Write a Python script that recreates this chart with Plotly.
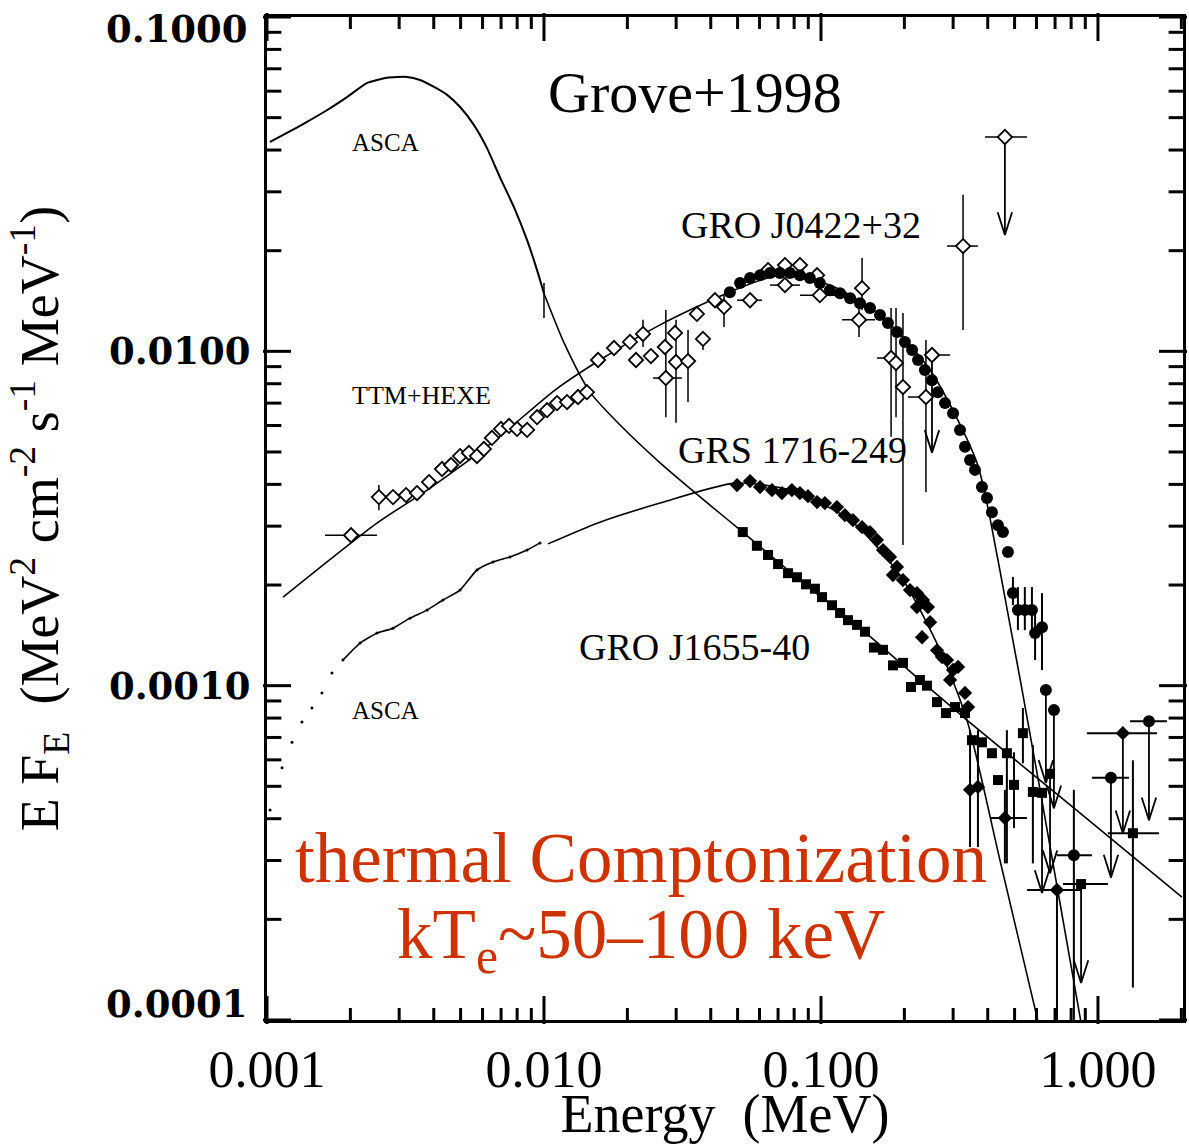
import numpy as np
import plotly.graph_objects as go

# ---------------- data (Energy in MeV, E*F_E in MeV^2 cm^-2 s^-1 MeV^-1) ----------------
# ASCA spectrum, upper (soft source)
asca_hi_E = [0.001026, 0.00118, 0.00139, 0.00165, 0.00195, 0.00230, 0.00271, 0.00320, 0.00357,
             0.00401, 0.00447, 0.00498, 0.00559, 0.00622, 0.00693, 0.00779, 0.00869, 0.00944, 0.0100]
asca_hi_F = [0.0423, 0.0450, 0.0485, 0.0527, 0.0577, 0.0635, 0.0658, 0.0662, 0.0648,
             0.0618, 0.0585, 0.0538, 0.0475, 0.0406, 0.0332, 0.0270, 0.0215, 0.0175, 0.0149]
asca_hi_Flo = [None] * 18 + [0.01259]
asca_hi_Fhi = [None] * 18 + [0.0160]

# ASCA spectrum, lower
asca_lo_E = [0.001026, 0.001133, 0.001231, 0.001337, 0.001453, 0.001579, 0.001716, 0.001880, 0.002168,
             0.002494, 0.002851, 0.003281, 0.003785, 0.004318, 0.004978, 0.005728, 0.006546, 0.007535,
             0.008690, 0.009680]
asca_lo_F = [0.000425, 0.000568, 0.000677, 0.000778, 0.000857, 0.000951, 0.001091, 0.001193, 0.001341,
             0.001436, 0.001486, 0.001592, 0.001683, 0.001804, 0.001932, 0.002218, 0.002344, 0.002427,
             0.002545, 0.002673]

# model curves
m1655_E = [0.0100, 0.01191, 0.01466, 0.01879, 0.02625, 0.0397, 0.0522, 0.0839, 0.1383, 0.2276, 0.3365, 0.826, 2.01]
m1655_F = [0.0149, 0.01045, 0.00755, 0.00603, 0.00464, 0.00347, 0.00288, 0.00207, 0.00149, 0.00104, 0.000789,
           0.000428, 0.000233]
m0422_E = [0.001143, 0.002494, 0.003785, 0.006546, 0.01096, 0.01592, 0.02625, 0.0458, 0.0711, 0.1076, 0.1633,
           0.2477, 0.3657, 0.4355, 0.618, 0.898]
m0422_F = [0.00184, 0.003063, 0.003846, 0.005358, 0.00766, 0.00942, 0.0120, 0.01493, 0.01690, 0.01578, 0.01285,
           0.00879, 0.00464, 0.002377, 0.000488, 0.0000841]
m1716_E = [0.01033, 0.01592, 0.02625, 0.04898, 0.07727, 0.1274, 0.1927, 0.2692, 0.3365, 0.4426, 0.618]
m1716_F = [0.002655, 0.003084, 0.003516, 0.004036, 0.003846, 0.003126, 0.002143, 0.001276, 0.000789, 0.000301,
           0.0000933]

# TTM+HEXE (open diamonds)
ttm_E = [0.002011, 0.002535, 0.002851, 0.003177, 0.003480, 0.003846, 0.004285, 0.004617, 0.004978, 0.005358,
         0.005728, 0.006067, 0.006486, 0.006998, 0.007479, 0.007996, 0.008690, 0.009441, 0.01026, 0.01115,
         0.01211, 0.01327, 0.01429]
ttm_F = [0.002818, 0.003664, 0.003664, 0.003716, 0.003767, 0.004064, 0.004446, 0.004571, 0.004860, 0.004966,
         0.004860, 0.005105, 0.005508, 0.005861, 0.005984, 0.005861, 0.005821, 0.006353, 0.006668, 0.00700,
         0.00705, 0.00730, 0.00755]
ttm_Elo = [0.001619] + [None] * 22
ttm_Ehi = [0.002494] + [None] * 22
ttm_Flo = [None, 0.003350] + [None] * 21
ttm_Fhi = [None, 0.003981] + [None] * 21

# GRO J0422+32 higher-energy open diamonds
od_E = [0.01567, 0.01790, 0.02044, 0.02278, 0.02148, 0.02432, 0.02733, 0.02754, 0.02972, 0.02997, 0.03311,
        0.03565, 0.03750, 0.04142, 0.04467, 0.05546, 0.06442, 0.07413, 0.08395, 0.07413, 0.09683, 0.09908,
        0.1407, 0.1372, 0.1791, 0.1866, 0.1977, 0.2393, 0.3258]
od_F = [0.00942, 0.01023, 0.01067, 0.01127, 0.00942, 0.00968, 0.01030, 0.00832, 0.01135, 0.00929, 0.00935,
        0.01294, 0.01089, 0.01422, 0.01358, 0.01422, 0.01750, 0.01811, 0.01811, 0.01578, 0.01690, 0.01472,
        0.01545, 0.01242, 0.00955, 0.00923, 0.00782, 0.00730, 0.02065]
od_Elo = [None, None, None, None, None, None, None, 0.02475, None, None, None, None, None, None, None, 0.04977,
          None, None, None, 0.06546, None, 0.08395, None, 0.1191, 0.1592, None, None, 0.2061, 0.2851]
od_Ehi = [None, None, None, None, None, None, None, 0.03147, None, None, None, None, None, None, None, 0.06124,
          None, None, None, 0.08395, None, 0.1124, None, 0.1567, None, None, None, 0.2535, 0.3687]
od_Flo = [None, None, None, 0.01030, None, None, None, 0.00635, None, 0.00611, 0.00705, None, 0.01009, None,
          0.01183, None, None, None, None, None, None, None, 0.01330, 0.01104, 0.00555, 0.00635, 0.002636,
          0.00379, 0.01159]
od_Fhi = [None, None, None, 0.01242, None, None, None, 0.01330, None, 0.01242, 0.01159, None, 0.01143, None,
          0.01472, None, None, None, None, None, None, None, 0.01901, 0.01348, 0.01348, 0.01348, 0.01303,
          0.01081, 0.02938]

# GRO J0422+32 filled circles
circ_E = [0.04688, 0.05105, 0.05546, 0.06026, 0.06546, 0.07111, 0.07727, 0.08395, 0.09120, 0.09908, 0.1076,
          0.1172, 0.1274, 0.1383, 0.1503, 0.1633, 0.1745, 0.1881, 0.2009, 0.2133, 0.2241, 0.2372, 0.2516,
          0.2642, 0.2804, 0.2998, 0.3177, 0.3311, 0.3453, 0.3597, 0.3812, 0.3975, 0.4142, 0.4355, 0.4539,
          0.4732, 0.4932, 0.5141, 0.5445, 0.5775, 0.5929, 0.6281, 0.8185]
circ_F = [0.01503, 0.01600, 0.01656, 0.01690, 0.01714, 0.01714, 0.01714, 0.01690, 0.01656, 0.01600, 0.01524,
          0.01493, 0.01442, 0.01393, 0.01348, 0.01285, 0.01216, 0.01143, 0.01067, 0.01009, 0.00942, 0.00879,
          0.00820, 0.00755, 0.00700, 0.00653, 0.00582, 0.00518, 0.00473, 0.00442, 0.00393, 0.00364, 0.00330,
          0.00302, 0.00288, 0.002512, 0.001892, 0.001683, 0.001683, 0.001683, 0.001436, 0.001496, 0.000311]
circ_Elo = [None] * 42 + [0.7112]
circ_Ehi = [None] * 42 + [0.9508]
circ_Flo = [None] * 36 + [0.001742, 0.001466, 0.001466, 0.001466, 0.001193, 0.001114, 0.00001]
circ_Fhi = [None] * 36 + [0.002113, 0.001972, 0.001972, 0.001972, 0.001683, 0.001892, 0.000488]

# GRS 1716-249 filled diamonds
dia_E = [0.04977, 0.05546, 0.06026, 0.06653, 0.07228, 0.07852, 0.08395, 0.08975, 0.09683, 0.1033, 0.1142,
         0.1220, 0.1305, 0.1407, 0.1503, 0.1592, 0.1675, 0.1775, 0.1881, 0.1820, 0.1977, 0.2096, 0.2221,
         0.2334, 0.2221, 0.2433, 0.2477, 0.2317, 0.2624, 0.2735, 0.2851, 0.2998, 0.3125, 0.2925, 0.3311,
         0.3396, 0.3453, 0.3687, 0.4613, 0.7112]
dia_F = [0.003981, 0.004093, 0.003927, 0.003846, 0.003767, 0.003846, 0.003767, 0.003689, 0.003540, 0.003516,
         0.003420, 0.003236, 0.003126, 0.002978, 0.002877, 0.002727, 0.002545, 0.002427, 0.002266, 0.002143,
         0.002070, 0.001932, 0.001892, 0.001804, 0.001718, 0.001718, 0.001549, 0.001396, 0.001276, 0.001218,
         0.001193, 0.001114, 0.001138, 0.001040, 0.000951, 0.000863, 0.000488, 0.000498, 0.000402, 0.000245]
dia_Elo = [None] * 38 + [0.4077, 0.5546]
dia_Ehi = [None] * 38 + [0.5546, 0.875]
dia_Flo = [None] * 36 + [0.000329, 0.000329, 0.000294, 0.00001]
dia_Fhi = [None] * 36 + [0.000736, 0.000736, 0.000488, None]

# GRO J1655-40 filled squares
sq_E = [0.0522, 0.0587, 0.0644, 0.0700, 0.0760, 0.0819, 0.0883, 0.0951, 0.1009, 0.1096, 0.1172, 0.1252,
        0.1349, 0.1442, 0.1553, 0.1675, 0.1820, 0.1977, 0.2113, 0.2276, 0.2413, 0.2624, 0.2826, 0.3048,
        0.3311, 0.3508, 0.3812, 0.4142, 0.4355, 0.4690, 0.4977, 0.5358, 0.5821, 1.337]
sq_F = [0.00288, 0.00262, 0.00246, 0.00231, 0.00217, 0.00211, 0.00201, 0.00195, 0.00184, 0.00174, 0.00165,
        0.00157, 0.00152, 0.00145, 0.00130, 0.00128, 0.00115, 0.00117, 0.000991, 0.00104, 0.00100, 0.000893,
        0.000828, 0.000863, 0.000828, 0.000687, 0.000677, 0.000628, 0.000522, 0.000628, 0.000505, 0.000721,
        0.000481, 0.000362]
sq_Elo = [None] * 33 + [1.086]
sq_Ehi = [None] * 33 + [1.660]
sq_Flo = [None] * 29 + [0.000294, 0.000375, 0.000586, 0.000294, 0.000125]
sq_Fhi = [None] * 29 + [0.000736, 0.000632, 0.000857, 0.000664, 0.000598]

# upper limits: value, arrow tip, horizontal extent
ul_od_E = [0.4613, 0.2516]
ul_od_F = [0.04375, 0.00975]
ul_od_tip = [0.02228, 0.00497]
ul_od_Elo = [0.3908, 0.2413]
ul_od_Ehi = [0.5546, 0.2925]

ul_circ_E = [0.6486, 0.6934, 1.114, 1.528]
ul_circ_F = [0.000971, 0.000845, 0.000530, 0.000783]
ul_circ_tip = [0.000512, 0.000430, 0.000267, 0.000396]
ul_circ_Elo = [None, None, 0.9508, 1.305]
ul_circ_Ehi = [None, None, 1.294, 1.774]

ul_dia_E = [1.230]
ul_dia_F = [0.000721]
ul_dia_tip = [0.000362]
ul_dia_Elo = [0.912]
ul_dia_Ehi = [1.633]

ul_sq_E = [0.6281, 0.6714, 0.869]
ul_sq_F = [0.000478, 0.000545, 0.000255]
ul_sq_tip = [0.000240, 0.000275, 0.000129]
ul_sq_Elo = [None, None, 0.748]
ul_sq_Ehi = [None, None, 1.086]

# axis ticks
x_major = [0.001, 0.01, 0.1, 1.0]
x_major_text = ["0.001", "0.010", "0.100", "1.000"]
y_major = [0.0001, 0.001, 0.01, 0.1]
y_major_text = ["0.0001", "0.0010", "0.0100", "0.1000"]
x_minor = [k * 10.0 ** d for d in range(-3, 1) for k in range(2, 10)]
y_minor = [k * 10.0 ** d for d in range(-4, -1) for k in range(2, 10)]

X_RANGE = [-3, 0.307]
Y_RANGE = [-4.00001, -0.99999]
PLOT_W, PLOT_H = 916, 1003  # plot-area size in px (for tick lengths)

# ---------------- helpers ----------------
INK = "black"
RED = "#CC3300"


def plus(vals, bounds):
    return [0 if b is None else max(b - v, 0) for v, b in zip(vals, bounds)]


def minus(vals, bounds):
    return [0 if b is None else max(v - b, 0) for v, b in zip(vals, bounds)]


def errs(E, F, Elo, Ehi, Flo, Fhi, thick):
    ex = dict(type="data", symmetric=False, array=plus(E, Ehi), arrayminus=minus(E, Elo),
              width=0, thickness=thick, color=INK)
    ey = dict(type="data", symmetric=False, array=plus(F, Fhi), arrayminus=minus(F, Flo),
              width=0, thickness=thick, color=INK)
    return ex, ey


def arrows(E, F, tip):
    hw, hh = 0.026, 0.068  # head half-width / height in decades
    xs, ys = [], []
    for e, f, t in zip(E, F, tip):
        xs += [e, e, None, e * 10 ** (-hw), e, e * 10 ** hw, None]
        ys += [f, t, None, t * 10 ** hh, t, t * 10 ** hh, None]
    return xs, ys


fig = go.Figure()

# model curves
for E, F in [(m1655_E, m1655_F), (m0422_E, m0422_F), (m1716_E, m1716_F)]:
    fig.add_trace(go.Scatter(x=E, y=F, mode="lines", line=dict(color=INK, width=1.6, shape="spline", smoothing=0.7),
                             hoverinfo="skip"))

# ASCA spectra
fig.add_trace(go.Scatter(x=asca_hi_E, y=asca_hi_F, mode="lines",
                         line=dict(color=INK, width=2, shape="spline", smoothing=0.5)))
fig.add_trace(go.Scatter(x=asca_hi_E, y=asca_hi_F, mode="markers", marker=dict(size=1, color=INK),
                         error_y=dict(type="data", symmetric=False, array=plus(asca_hi_F, asca_hi_Fhi),
                                      arrayminus=minus(asca_hi_F, asca_hi_Flo), width=0, thickness=1.5,
                                      color=INK)))
fig.add_trace(go.Scatter(x=asca_lo_E[7:], y=asca_lo_F[7:], mode="lines",
                         line=dict(color=INK, width=1.6, shape="spline", smoothing=0.5)))
fig.add_trace(go.Scatter(x=asca_lo_E, y=asca_lo_F, mode="markers",
                         marker=dict(color=INK, size=3)))

# upper-limit arrows
for E, F, tip in [(ul_od_E, ul_od_F, ul_od_tip), (ul_circ_E, ul_circ_F, ul_circ_tip),
                  (ul_dia_E, ul_dia_F, ul_dia_tip), (ul_sq_E, ul_sq_F, ul_sq_tip)]:
    ax_, ay_ = arrows(E, F, tip)
    fig.add_trace(go.Scatter(x=ax_, y=ay_, mode="lines", line=dict(color=INK, width=1.8), connectgaps=False))

open_marker = dict(symbol="diamond", size=11, color="white", line=dict(color=INK, width=1.8))

# open diamonds
ex, ey = errs(ttm_E, ttm_F, ttm_Elo, ttm_Ehi, ttm_Flo, ttm_Fhi, 1.5)
fig.add_trace(go.Scatter(x=ttm_E, y=ttm_F, mode="markers", marker=open_marker, error_x=ex, error_y=ey))
ex, ey = errs(od_E, od_F, od_Elo, od_Ehi, od_Flo, od_Fhi, 1.5)
fig.add_trace(go.Scatter(x=od_E, y=od_F, mode="markers", marker=open_marker, error_x=ex, error_y=ey))
ex, ey = errs(ul_od_E, ul_od_F, ul_od_Elo, ul_od_Ehi, [None] * 2, [None] * 2, 1.5)
fig.add_trace(go.Scatter(x=ul_od_E, y=ul_od_F, mode="markers", marker=open_marker, error_x=ex))

# filled squares (GRO J1655-40)
ex, ey = errs(sq_E, sq_F, sq_Elo, sq_Ehi, sq_Flo, sq_Fhi, 2)
fig.add_trace(go.Scatter(x=sq_E, y=sq_F, mode="markers", marker=dict(symbol="square", size=10, color=INK),
                         error_x=ex, error_y=ey))
ex, ey = errs(ul_sq_E, ul_sq_F, ul_sq_Elo, ul_sq_Ehi, [None] * 3, [None] * 3, 2)
fig.add_trace(go.Scatter(x=ul_sq_E, y=ul_sq_F, mode="markers", marker=dict(symbol="square", size=10, color=INK),
                         error_x=ex))

# filled diamonds (GRS 1716-249)
ex, ey = errs(dia_E, dia_F, dia_Elo, dia_Ehi, dia_Flo, dia_Fhi, 2)
fig.add_trace(go.Scatter(x=dia_E, y=dia_F, mode="markers", marker=dict(symbol="diamond", size=11, color=INK),
                         error_x=ex, error_y=ey))
ex, ey = errs(ul_dia_E, ul_dia_F, ul_dia_Elo, ul_dia_Ehi, [None], [None], 2)
fig.add_trace(go.Scatter(x=ul_dia_E, y=ul_dia_F, mode="markers", marker=dict(symbol="diamond", size=11, color=INK),
                         error_x=ex))

# filled circles (GRO J0422+32)
ex, ey = errs(circ_E, circ_F, circ_Elo, circ_Ehi, circ_Flo, circ_Fhi, 2)
fig.add_trace(go.Scatter(x=circ_E, y=circ_F, mode="markers", marker=dict(symbol="circle", size=12, color=INK),
                         error_x=ex, error_y=ey))
ex, ey = errs(ul_circ_E, ul_circ_F, ul_circ_Elo, ul_circ_Ehi, [None] * 4, [None] * 4, 2)
fig.add_trace(go.Scatter(x=ul_circ_E, y=ul_circ_F, mode="markers", marker=dict(symbol="circle", size=12, color=INK),
                         error_x=ex))

# inward tick marks on all four sides, drawn as line-shaped markers (major long, minor short)
dxp = (X_RANGE[1] - X_RANGE[0]) / PLOT_W   # decades per pixel
dyp = (Y_RANGE[1] - Y_RANGE[0]) / PLOT_H
xlo, xhi = 10 ** X_RANGE[0], 10 ** X_RANGE[1]
ylo, yhi = 10 ** Y_RANGE[0], 10 ** Y_RANGE[1]
for vals, L in [(x_major, 20), (x_minor, 10)]:
    off = 10 ** (L / 2 * dyp)
    fig.add_trace(go.Scatter(x=list(vals) * 2, y=[ylo * off] * len(vals) + [yhi / off] * len(vals),
                             mode="markers", cliponaxis=False, hoverinfo="skip",
                             marker=dict(symbol="line-ns", size=L, color=INK, line=dict(color=INK, width=3))))
for vals, L in [(y_major, 20), (y_minor, 12)]:
    off = 10 ** (L / 2 * dxp)
    fig.add_trace(go.Scatter(x=[xlo * off] * len(vals) + [xhi / off] * len(vals), y=list(vals) * 2,
                             mode="markers", cliponaxis=False, hoverinfo="skip",
                             marker=dict(symbol="line-ew", size=L, color=INK, line=dict(color=INK, width=3))))

# ---------------- axes ----------------
fig.update_layout(
    xaxis=dict(type="log", range=X_RANGE, tickmode="array", tickvals=x_major, ticktext=x_major_text,
               ticks="", showline=True, linewidth=3, linecolor=INK, mirror=True, showgrid=False, zeroline=False,
               tickfont=dict(family="Liberation Serif", size=52, color=INK), ticklabelstandoff=2,
               title=dict(text="Energy\u00a0 (MeV)", font=dict(family="Liberation Serif", size=54, color=INK),
                          standoff=28)),
    yaxis=dict(type="log", range=Y_RANGE, tickmode="array", tickvals=y_major[1:3],
               ticktext=y_major_text[1:3],
               ticks="", showline=True, linewidth=3, linecolor=INK, mirror=True, showgrid=False, zeroline=False,
               tickfont=dict(family="DejaVu Serif", size=37, color=INK, weight="bold"), ticklabelstandoff=6,
               title=dict(text="E F<sub>E</sub>\u00a0 (MeV<sup>2</sup> cm<sup>-2</sup> s<sup>-1</sup> MeV<sup>-1</sup>)",
                          font=dict(family="Liberation Serif", size=54, color=INK), standoff=34)),
)

# end labels of the y axis sit just inside the frame, as in the original
for text, y, ya, shift in [(y_major_text[3], 1.0, "top", 12), (y_major_text[0], 0.0, "bottom", -8)]:
    fig.add_annotation(text=text, x=-0.0186, y=y, xref="paper", yref="paper", showarrow=False,
                       xanchor="right", yanchor=ya, yshift=shift,
                       font=dict(family="DejaVu Serif", size=37, color=INK, weight="bold"))

# ---------------- labels ----------------
labels = [
    ("Grove+1998", 0.467, 0.925, 58, INK),
    ("ASCA", 0.129, 0.875, 25, INK),
    ("TTM+HEXE", 0.169, 0.623, 26, INK),
    ("GRO J0422+32", 0.583, 0.793, 38, INK),
    ("GRS 1716-249", 0.574, 0.568, 38, INK),
    ("GRO J1655-40", 0.467, 0.372, 38, INK),
    ("ASCA", 0.129, 0.309, 25, INK),
    ("thermal Comptonization", 0.408, 0.1615, 71, RED),
    ("kT<sub>e</sub>~50\u2013100 keV", 0.408, 0.080, 71, RED),
]
for text, x, y, size, color in labels:
    fig.add_annotation(text=text, x=x, y=y, xref="paper", yref="paper", showarrow=False,
                       xanchor="center", yanchor="middle",
                       font=dict(family="Liberation Serif", size=size, color=color))

fig.update_layout(width=1189, height=1144, margin=dict(l=267, r=6, t=17, b=124, autoexpand=False),
                  paper_bgcolor="white", plot_bgcolor="white", showlegend=False,
                  font=dict(family="Liberation Serif", color=INK))

fig.write_html("out.html")
